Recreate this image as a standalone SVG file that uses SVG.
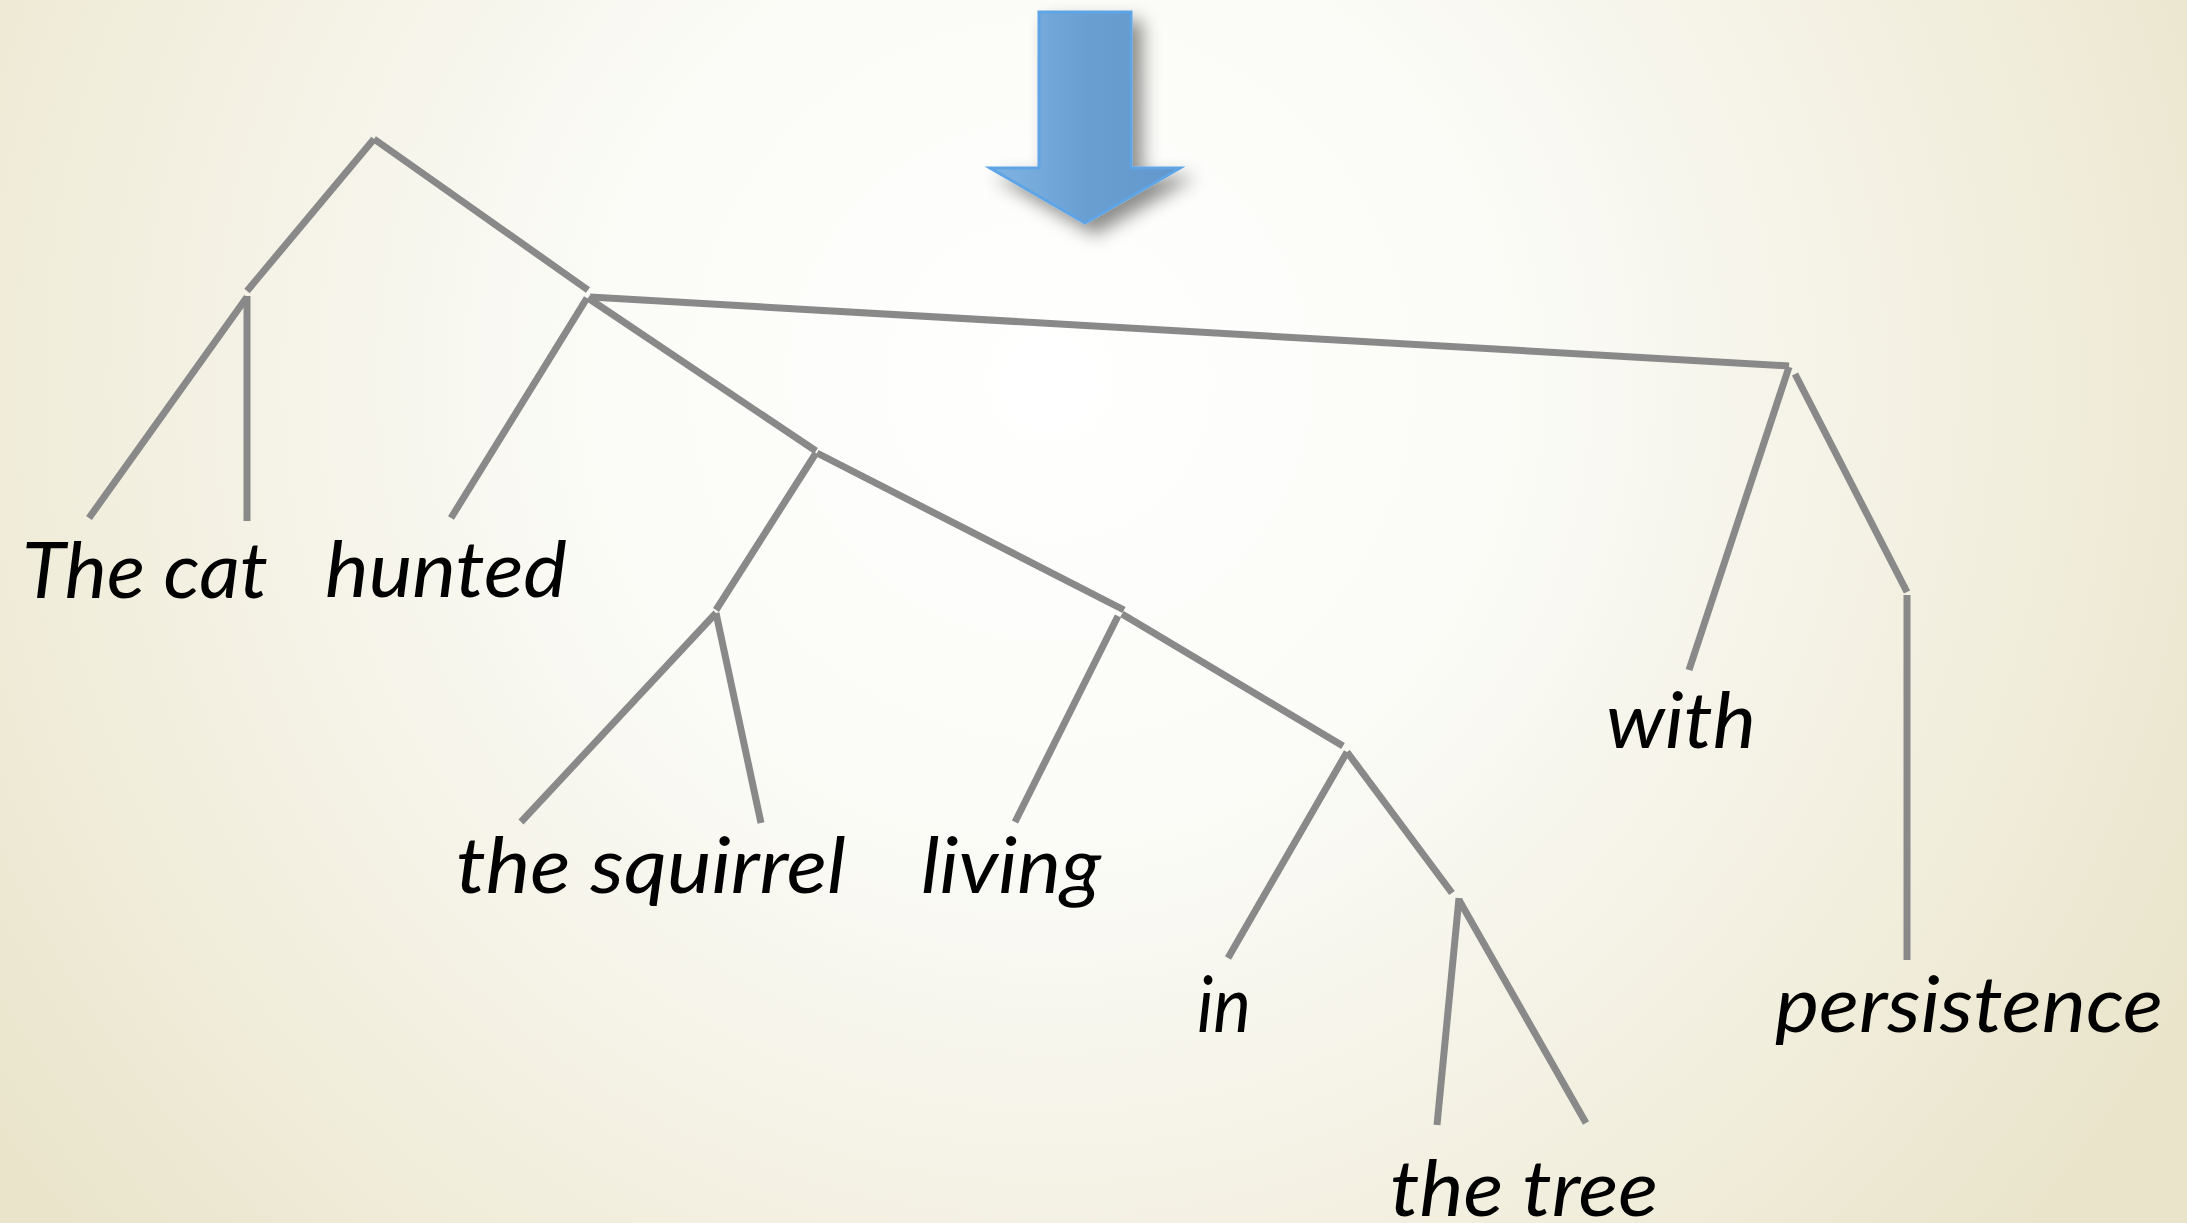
<svg xmlns="http://www.w3.org/2000/svg" width="2187" height="1223" viewBox="0 0 2187 1223">
  <defs>
    <radialGradient id="bg" cx="1050" cy="380" r="1300" gradientUnits="userSpaceOnUse">
      <stop offset="0" stop-color="#ffffff"/>
      <stop offset="0.35" stop-color="#fbfbf7"/>
      <stop offset="0.75" stop-color="#f1eedd"/>
      <stop offset="1" stop-color="#e9e4ca"/>
    </radialGradient>
    <linearGradient id="arrowFill" x1="0" y1="0" x2="1" y2="0">
      <stop offset="0" stop-color="#80b4e4"/>
      <stop offset="0.5" stop-color="#6a9fd2"/>
      <stop offset="1" stop-color="#6297cb"/>
    </linearGradient>
    <filter id="shadow" x="-40%" y="-30%" width="180%" height="170%">
      <feDropShadow dx="10" dy="10" stdDeviation="9" flood-color="#000" flood-opacity="0.45"/>
    </filter>
    <style>
      .edge { stroke: #898989; stroke-width: 7; fill: none; stroke-linecap: butt; }
      .lbl { font-family: "Lato", "Open Sans", "Liberation Sans", sans-serif; font-style: italic; font-size: 78px; fill: #000; }
    </style>
  </defs>
  <rect x="0" y="0" width="2187" height="1223" fill="url(#bg)"/>

  <g id="arrow">
    <polygon points="1039,12 1131,12 1131,168 1180,168 1085,223 990,168 1039,168" fill="url(#arrowFill)" stroke="#5ea4e4" stroke-width="3" stroke-linejoin="miter" filter="url(#shadow)"/>
  </g>

  <g id="connectors">
    <line class="edge" x1="374" y1="139" x2="247" y2="291"/>
    <line class="edge" x1="374" y1="139" x2="588" y2="290"/>
    <line class="edge" x1="247" y1="297" x2="89" y2="518"/>
    <line class="edge" x1="247" y1="296" x2="247" y2="521"/>
    <line class="edge" x1="587" y1="298" x2="451" y2="518"/>
    <line class="edge" x1="588" y1="298" x2="816" y2="451"/>
    <line class="edge" x1="590" y1="297" x2="1789" y2="366"/>
    <line class="edge" x1="816" y1="453" x2="716" y2="610"/>
    <line class="edge" x1="817" y1="453" x2="1124" y2="610"/>
    <line class="edge" x1="716" y1="613" x2="521" y2="822"/>
    <line class="edge" x1="716" y1="613" x2="761" y2="823"/>
    <line class="edge" x1="1118" y1="616" x2="1015" y2="822"/>
    <line class="edge" x1="1122" y1="614" x2="1343" y2="746"/>
    <line class="edge" x1="1347" y1="752" x2="1228" y2="958"/>
    <line class="edge" x1="1347" y1="752" x2="1452" y2="893"/>
    <line class="edge" x1="1459" y1="898" x2="1437" y2="1125"/>
    <line class="edge" x1="1459" y1="900" x2="1586" y2="1123"/>
    <line class="edge" x1="1789" y1="367" x2="1689" y2="670"/>
    <line class="edge" x1="1795" y1="374" x2="1907" y2="592"/>
    <line class="edge" x1="1907" y1="595" x2="1907" y2="960"/>
  </g>

  <g id="node-the-cat"><text class="lbl" x="22" y="598" textLength="246" lengthAdjust="spacingAndGlyphs">The cat</text></g>
  <g id="node-hunted"><text class="lbl" x="325" y="597" textLength="242" lengthAdjust="spacingAndGlyphs">hunted</text></g>
  <g id="node-the-squirrel"><text class="lbl" x="456" y="893" textLength="390" lengthAdjust="spacingAndGlyphs">the squirrel</text></g>
  <g id="node-living"><text class="lbl" x="921" y="893" textLength="180" lengthAdjust="spacingAndGlyphs">living</text></g>
  <g id="node-in"><text class="lbl" x="1197" y="1032" textLength="54" lengthAdjust="spacingAndGlyphs">in</text></g>
  <g id="node-the-tree"><text class="lbl" x="1390" y="1216" textLength="268" lengthAdjust="spacingAndGlyphs">the tree</text></g>
  <g id="node-with"><text class="lbl" x="1606" y="748" textLength="150" lengthAdjust="spacingAndGlyphs">with</text></g>
  <g id="node-persistence"><text class="lbl" x="1775" y="1032" textLength="388" lengthAdjust="spacingAndGlyphs">persistence</text></g>
</svg>
